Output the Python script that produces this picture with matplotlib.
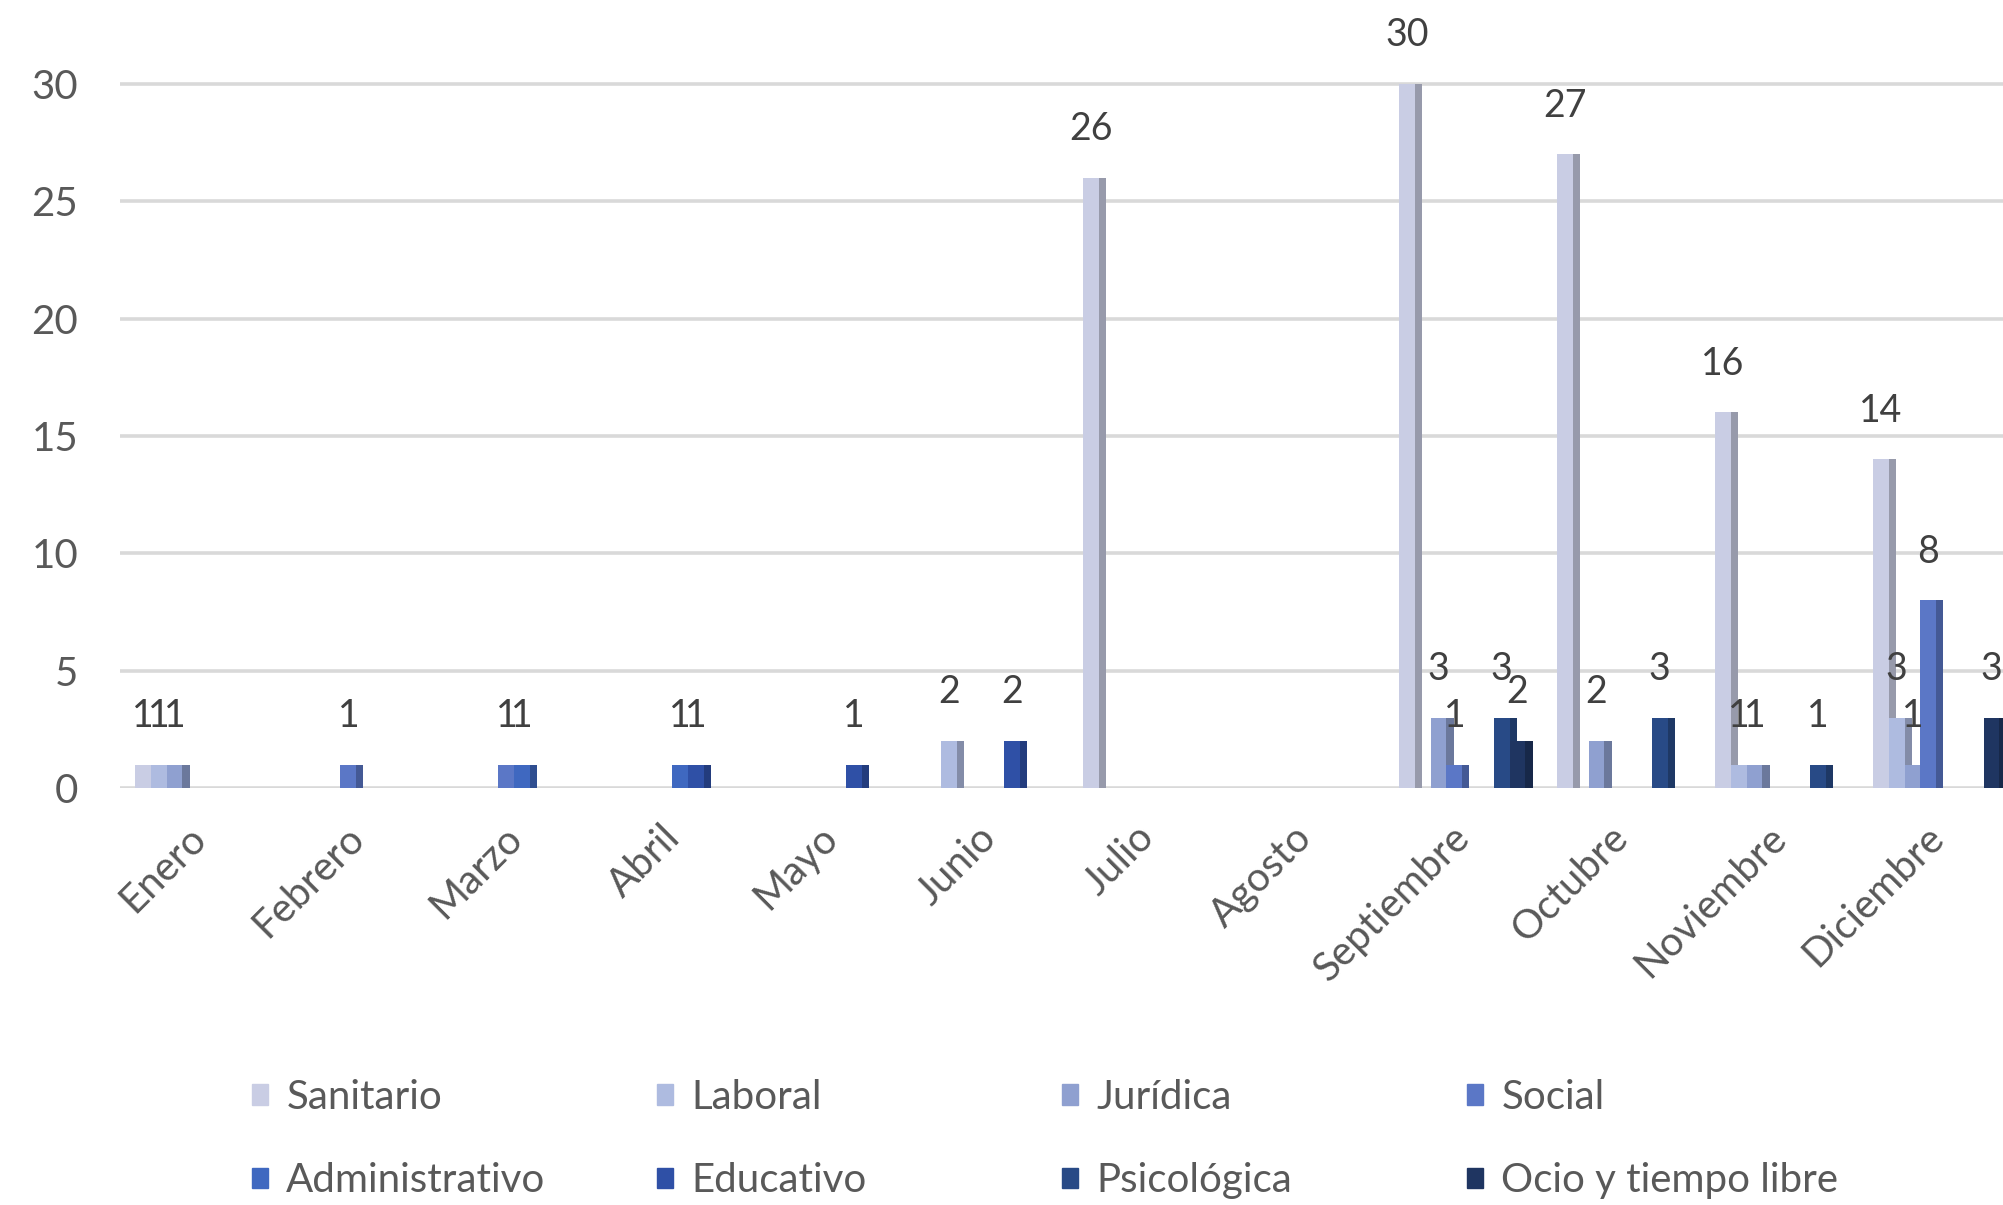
import numpy as np
import matplotlib
matplotlib.use("Agg")
import matplotlib.pyplot as plt
import matplotlib.transforms as mtransforms
from matplotlib.patches import Patch
from matplotlib.colors import to_rgb

plt.rcParams["font.family"] = ["Lato", "DejaVu Sans"]

months = ["Enero", "Febrero", "Marzo", "Abril", "Mayo", "Junio", "Julio",
          "Agosto", "Septiembre", "Octubre", "Noviembre", "Diciembre"]
series = ["Sanitario", "Laboral", "Jurídica", "Social",
          "Administrativo", "Educativo", "Psicológica", "Ocio y tiempo libre"]

# None = empty cell (no bar, no label)
sanitario      = [1, None, None, None, None, None, 26, None, 30, 27, 16, 14]
laboral        = [1, None, None, None, None, 2, None, None, None, None, 1, 3]
juridica       = [1, None, None, None, None, None, None, None, 3, 2, 1, 1]
social         = [None, 1, 1, None, None, None, None, None, 1, None, None, 8]
administrativo = [None, None, 1, 1, None, None, None, None, None, None, None, None]
educativo      = [None, None, None, 1, 1, 2, None, None, None, None, None, None]
psicologica    = [None, None, None, None, None, None, None, None, 3, 3, 1, None]
ocio           = [None, None, None, None, None, None, None, None, 2, None, None, 3]

data = [sanitario, laboral, juridica, social, administrativo, educativo, psicologica, ocio]
colors = ["#c9cde4", "#aebbe0", "#8fa0d0", "#5b77c6",
          "#3f68c0", "#2f50a6", "#284a86", "#1f3561"]

SLOT = 0.1      # width of one series slot inside a month
SIDE = 0.045    # visible side face of the "3d" column
TXT = "#595959"
FS = 29

fig = plt.figure(figsize=(20.03, 12.05), dpi=100)
ax = fig.add_axes([120 / 2003, 1 - 788 / 1205, 1896 / 2003, 33 * 23.47 / 1205])

for k, (name, vals, c) in enumerate(zip(series, data, colors)):
    idx = [i for i, v in enumerate(vals) if v is not None]
    h = [vals[i] for i in idx]
    x = np.array(idx) - 0.405 + SLOT * k
    side = tuple(np.array(to_rgb(c)) * 0.75)
    ax.bar(x + SLOT, h, width=SIDE, align="edge", color=side, zorder=2 + k)
    ax.bar(x, h, width=SLOT, align="edge", color=c, zorder=2 + k, label=name)
    for xi, v in zip(x, h):
        ax.annotate(str(v), (xi + SLOT / 2, v), xytext=(0, 35), textcoords="offset points",
                    ha="center", va="center", fontsize=27, color="#404040", zorder=20)

ax.set_xlim(-0.5, 11.5)
ax.set_ylim(0, 33)
ax.set_yticks(range(0, 31, 5))
ax.set_xticks(range(12))
ax.set_xticklabels(months, rotation=45, ha="right", va="top", rotation_mode="anchor")
ax.tick_params(axis="both", length=0, labelsize=FS, labelcolor=TXT)
ax.tick_params(axis="y", pad=30)
ax.tick_params(axis="x", pad=22)
shift = mtransforms.ScaledTranslation(-12 / 100, 0, fig.dpi_scale_trans)
for lab in ax.get_xticklabels():
    lab.set_transform(lab.get_transform() + shift)
ax.grid(axis="y", color="#d9d9d9", lw=2.6, zorder=0)
ax.set_axisbelow(True)
for s in ax.spines.values():
    s.set_visible(False)

# legend: 4 equal-width columns, 2 rows (Excel style)
for col in range(4):
    hs = [Patch(color=colors[col + 4 * r]) for r in range(2)]
    fig.legend(hs, [series[col + 4 * r] for r in range(2)],
               loc="center left", bbox_to_anchor=((232 + 405 * col) / 2003, 1 - 1139 / 1205),
               frameon=False, fontsize=FS, labelcolor=TXT, handlelength=0.4,
               handleheight=0.4, handletextpad=0.45, labelspacing=1.15, borderpad=0)

fig.savefig("out.png", dpi=100)
